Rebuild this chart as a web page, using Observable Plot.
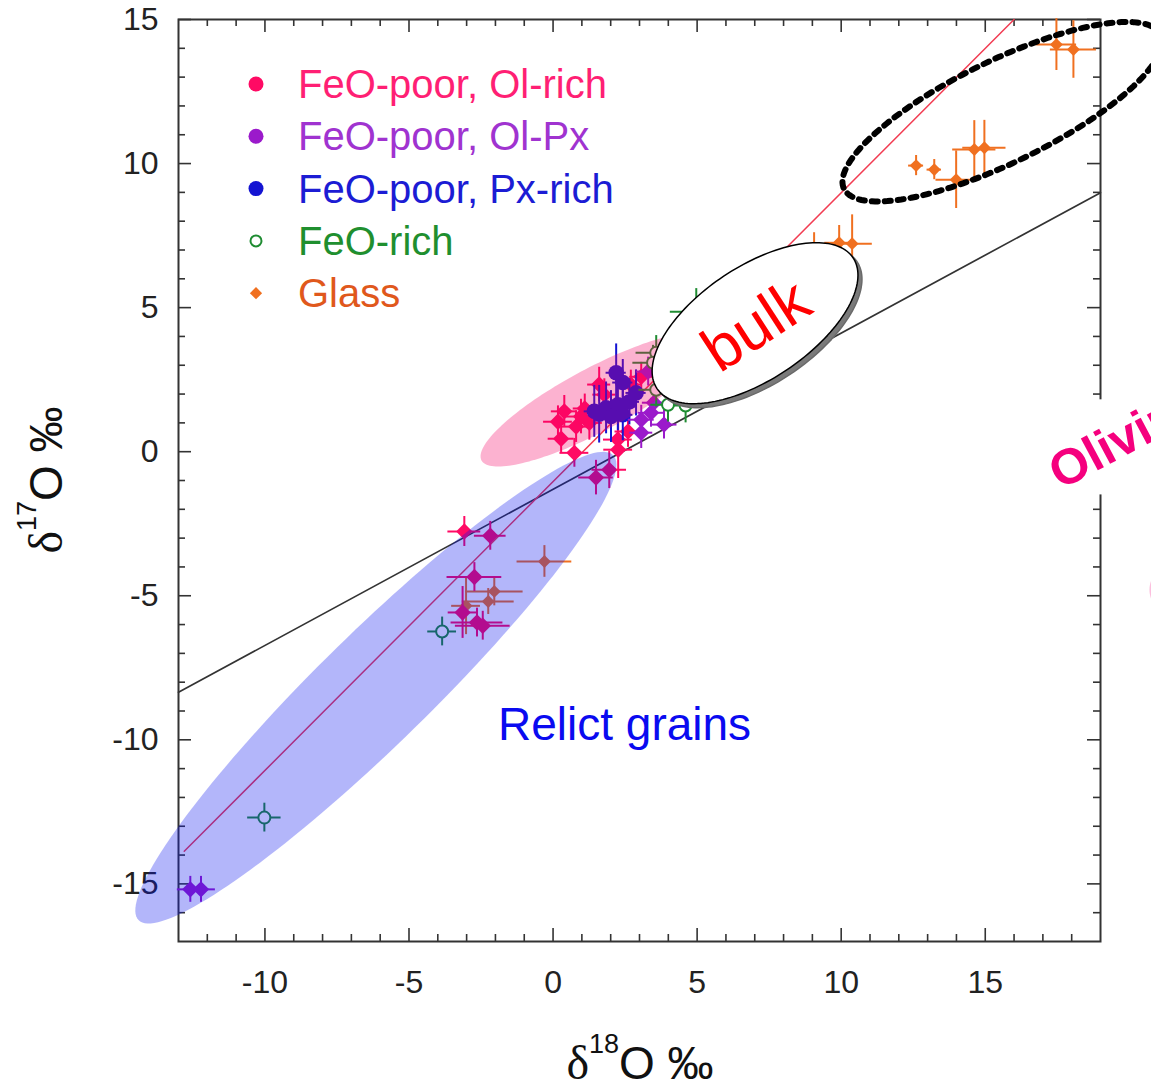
<!DOCTYPE html>
<html><head><meta charset="utf-8">
<script src="https://cdn.jsdelivr.net/npm/d3@7"></script>
<script src="https://cdn.jsdelivr.net/npm/@observablehq/plot@0.6"></script>
<style>
html,body{margin:0;padding:0;background:#fff;}
#wrap{position:relative;width:1151px;height:1091px;overflow:hidden;}
</style></head><body><div id="wrap"></div>
<script>
// ---- data: [δ18O, δ17O, err18, err17] ----
const olRich = [
  [0.17, 1.04, 0.5, 0.55], [0.28, 0.45, 0.45, 0.5], [0.8, 0.87, 0.5, 0.55],
  [0.97, 1.22, 0.5, 0.6], [0.74, -0.04, 0.5, 0.5], [1.26, 1.0, 0.45, 0.6],
  [0.39, 1.4, 0.45, 0.55], [1.6, 2.33, 0.4, 0.6], [1.78, 1.98, 0.4, 0.55],
  [2.25, 0.42, 0.5, 0.6], [2.6, 0.7, 0.45, 0.55], [2.26, 0.07, 0.5, 1.0],
  [3.06, 2.6, 0.4, 0.5], [2.7, 2.33, 0.4, 0.5], [1.1, 1.5, 0.4, 0.5],
  [-3.08, -2.77, 0.57, 0.52], [-2.18, -2.92, 0.55, 0.5], [-2.73, -4.35, 0.95, 0.5],
  [-3.14, -5.58, 0.5, 0.9], [-2.64, -5.93, 0.9, 0.5], [-2.44, -6.04, 0.95, 0.5],
  [1.49, -0.9, 0.6, 0.6], [1.95, -0.63, 0.6, 0.65]
];
const olPx = [
  [3.06, 1.11, 0.45, 0.5], [3.4, 1.35, 0.45, 0.5], [3.5, 1.7, 0.4, 0.5],
  [3.3, 2.78, 0.4, 0.5], [3.85, 0.94, 0.45, 0.5], [3.06, 0.66, 0.4, 0.55],
  [-12.59, -15.19, 0.45, 0.45], [-12.22, -15.19, 0.5, 0.45]
];
const pxRich = [
  [2.19, 2.74, 0.35, 1.0], [2.42, 2.4, 0.35, 0.8], [1.43, 1.4, 0.35, 0.9],
  [1.84, 1.52, 0.35, 0.9], [2.25, 1.63, 0.35, 0.9], [2.65, 1.73, 0.35, 0.8],
  [2.88, 2.04, 0.35, 0.8], [2.01, 1.22, 0.35, 0.9], [2.42, 1.28, 0.35, 0.9],
  [1.6, 1.3, 0.35, 1.0]
];
const feoRich = [
  [3.58, 3.43, 0.7, 0.6], [3.47, 3.09, 0.7, 0.6], [3.99, 1.63, 0.6, 0.6],
  [3.58, 2.15, 0.6, 0.6], [4.97, 4.86, 0.9, 0.8], [4.6, 1.6, 0.6, 0.6],
  [-3.85, -6.24, 0.5, 0.5], [-10.02, -12.7, 0.58, 0.5]
];
const glass = [
  [17.47, 14.13, 0.7, 0.9], [18.06, 13.96, 0.8, 1.0], [12.6, 9.93, 0.26, 0.35],
  [13.23, 9.79, 0.25, 0.35], [13.99, 9.44, 0.7, 1.0], [14.62, 10.49, 0.75, 1.0],
  [14.97, 10.55, 0.75, 0.95], [9.93, 7.25, 0.5, 0.6], [10.38, 7.22, 0.7, 1.0],
  [9.06, 6.6, 0.6, 1.0], [-2.04, -4.85, 1.0, 0.5], [-2.25, -5.2, 0.9, 0.45],
  [-3.02, -5.35, 0.5, 1.0], [-0.3, -3.81, 0.95, 0.55]
];
// reference lines
const tflX = [-13, 19], tflY = [-8.35, 8.99];
const ccamX = [-12.8, 16.0], ccamY = [-13.87, 15.0];
// regions: [cx, cy, semi-major, semi-minor, angle°]
const pinkRegion = [1.49, 1.81, 4.5, 1.1, 28];
const relictRegion = [-6.15, -8.19, 11.53, 1.94, 44.4];
const bulkRegion = [7.01, 4.46, 4.09, 1.96, 33.7];
const glassRing = [15.59, 11.8, 6.11, 1.77, 26];
const olivineRegion = [21.6, -4.79, 0.9, 0.9, 0];
// ticks
const xMajor = [-10, -5, 0, 5, 10, 15];
const yMajor = [-15, -10, -5, 0, 5, 10, 15];
const xMinor = [-12, -11, -9, -8, -7, -6, -4, -3, -2, -1, 1, 2, 3, 4, 6, 7, 8, 9, 11, 12, 13, 14, 16, 17, 18];
const yMinor = [-16, -14, -13, -12, -11, -9, -8, -7, -6, -4, -3, -2, -1, 1, 2, 3, 4, 6, 7, 8, 9, 11, 12, 13, 14];
// legend
const legendLabels = ["FeO-poor, Ol-rich", "FeO-poor, Ol-Px", "FeO-poor, Px-rich", "FeO-rich", "Glass"];
const legendTextColors = ["#ff1f74", "#a033d0", "#1c1cd4", "#1f8f2f", "#e0581c"];
const markerColors = ["#ff0a64", "#9b1acb", "#1414d2", "#1f8c32", "#f07020"];

// ---- helpers ----
const X0 = -13, X1 = 19, Y0 = -17, Y1 = 15;
const unit = 922 / 32;
const majL = 13 / unit, minL = 7 / unit;
function ellipse([cx, cy, a, b, ang], n = 160) {
  const t = ang * Math.PI / 180;
  return d3.range(n).map(i => {
    const p = 2 * Math.PI * i / n, u = a * Math.cos(p), v = b * Math.sin(p);
    return {x: cx + u * Math.cos(t) - v * Math.sin(t), y: cy + u * Math.sin(t) + v * Math.cos(t)};
  });
}
function series(data, color, symbol, r, filled) {
  const pts = data.map(([x, y, ex, ey]) => ({x, y, ex, ey}));
  return [
    Plot.ruleY(pts, {y: "y", x1: d => d.x - d.ex, x2: d => d.x + d.ex, stroke: color, strokeWidth: 2}),
    Plot.ruleX(pts, {x: "x", y1: d => d.y - d.ey, y2: d => d.y + d.ey, stroke: color, strokeWidth: 2}),
    Plot.dot(pts, {x: "x", y: "y", r, symbol, fill: filled ? color : "white", stroke: filled ? "none" : color, strokeWidth: filled ? 0 : 2})
  ];
}
const tickStyle = {stroke: "#333", strokeWidth: 1.6};
const line2 = (xs, ys) => xs.map((x, i) => ({x, y: ys[i]}));

const chart = Plot.plot({
  width: 1151, height: 1091,
  marginLeft: 178, marginRight: 51, marginTop: 19, marginBottom: 150,
  style: {fontFamily: "Liberation Sans, Arial, sans-serif", fontSize: "32px", background: "white", color: "#222"},
  x: {domain: [X0, X1], ticks: xMajor, tickSize: 0, tickPadding: 29, tickFormat: d => String(d), label: null},
  y: {domain: [Y0, Y1], ticks: yMajor, tickSize: 0, tickPadding: 20, tickFormat: d => String(d), label: null},
  marks: [
    Plot.frame({stroke: "#333", strokeWidth: 2}),
    Plot.ruleX(xMajor, {x: d => d, y1: Y0, y2: Y0 + majL, ...tickStyle}),
    Plot.ruleX(xMinor, {x: d => d, y1: Y0, y2: Y0 + minL, ...tickStyle}),
    Plot.ruleX(xMajor, {x: d => d, y1: Y1 - majL, y2: Y1, ...tickStyle}),
    Plot.ruleX(xMinor, {x: d => d, y1: Y1 - minL, y2: Y1, ...tickStyle}),
    Plot.ruleY(yMajor, {y: d => d, x1: X0, x2: X0 + majL, ...tickStyle}),
    Plot.ruleY(yMinor, {y: d => d, x1: X0, x2: X0 + minL, ...tickStyle}),
    Plot.ruleY(yMajor, {y: d => d, x1: X1 - majL, x2: X1, ...tickStyle}),
    Plot.ruleY(yMinor, {y: d => d, x1: X1 - minL, x2: X1, ...tickStyle}),
    // reference lines
    Plot.line(line2(tflX, tflY), {x: "x", y: "y", stroke: "#333", strokeWidth: 1.7}),
    Plot.line(line2(ccamX, ccamY), {x: "x", y: "y", stroke: "#f23c52", strokeWidth: 1.5}),
    // data
    ...series(glass, "#f07020", "diamond2", 5.8, true),
    ...series(olRich, "#ff0a64", "diamond2", 7.4, true),
    ...series(pxRich, "#1414d2", "circle", 7.8, true),
    ...series(olPx, "#9b1acb", "diamond2", 7.4, true),
    ...series(feoRich, "#1f8c32", "circle", 6, false),
    // translucent regions
    Plot.line(ellipse(pinkRegion), {x: "x", y: "y", curve: "linear-closed", fill: "#f50064", fillOpacity: 0.3, stroke: "none"}),
    Plot.line(ellipse(relictRegion), {x: "x", y: "y", curve: "linear-closed", fill: "#0a14f0", fillOpacity: 0.31, stroke: "none"}),
    Plot.line(ellipse(olivineRegion), {x: "x", y: "y", curve: "linear-closed", fill: "#f5007a", fillOpacity: 0.25, stroke: "none"}),
    // bulk
    Plot.line(ellipse(bulkRegion), {x: "x", y: "y", curve: "linear-closed", fill: "#7a7a7a", stroke: "#6a6a6a", strokeWidth: 1.5, dx: 4, dy: 4}),
    Plot.line(ellipse(bulkRegion), {x: "x", y: "y", curve: "linear-closed", fill: "white", stroke: "black", strokeWidth: 1.5}),
    Plot.text(["bulk"], {x: () => bulkRegion[0] + 0.05, y: () => bulkRegion[1] - 0.1, text: d => d, rotate: -33, fontSize: 62, fill: "#ff0000"}),
    // glass ring
    Plot.line(ellipse(glassRing), {x: "x", y: "y", curve: "linear-closed", stroke: "black", strokeWidth: 6, strokeDasharray: "6,7"}),
    // annotations
    Plot.text(["Relict grains"], {x: () => -1.91, y: () => -9.5, text: d => d, textAnchor: "start", fontSize: 46, fill: "#0a0af0"}),
    Plot.rect([0], {x1: () => 17.3, x2: () => 21.5, y1: () => -1.5, y2: () => 1.8, fill: "white"}),
    Plot.text(["Olivine"], {x: () => 17.35, y: () => -0.85, text: d => d, textAnchor: "start", rotate: -28, fontSize: 50, fontWeight: "bold", fill: "#f5007e"})
  ]
});
document.getElementById("wrap").appendChild(chart);

const svg = d3.select(chart.tagName.toLowerCase() === "svg" ? chart : chart.querySelector("svg"));
// legend
const lg = svg.append("g").attr("font-family", "Liberation Sans, Arial, sans-serif").attr("text-anchor", "start");
legendLabels.forEach((lab, i) => {
  const cy = 84 + i * 52.3;
  const c = markerColors[i];
  if (i === 3) {
    lg.append("circle").attr("cx", 256).attr("cy", cy).attr("r", 5.5).attr("fill", "white").attr("stroke", c).attr("stroke-width", 2);
  } else if (i === 4) {
    lg.append("path").attr("d", d3.symbol(d3.symbolDiamond2, 95)()).attr("transform", `translate(256,${cy})`).attr("fill", c);
  } else {
    lg.append("circle").attr("cx", 256).attr("cy", cy).attr("r", 7.5).attr("fill", c);
  }
  lg.append("text").attr("x", 298).attr("y", cy + 14).attr("text-anchor", "start").attr("font-size", 40).attr("fill", legendTextColors[i]).text(lab);
});
// axis titles
function axisTitle(g, sup) {
  const t = g.append("text").attr("text-anchor", "middle").attr("fill", "#111").attr("font-family", "Liberation Sans, Arial, sans-serif");
  t.append("tspan").attr("font-family", "Liberation Serif, serif").attr("font-size", 48).text("δ");
  t.append("tspan").attr("font-size", 27).attr("dy", -26).text(sup);
  t.append("tspan").attr("font-size", 46).attr("dy", 26).text("O ‰");
}
axisTitle(svg.append("g").attr("transform", "translate(640,1079)"), "18");
axisTitle(svg.append("g").attr("transform", "translate(62,480) rotate(-90)"), "17");
</script>
</body></html>
